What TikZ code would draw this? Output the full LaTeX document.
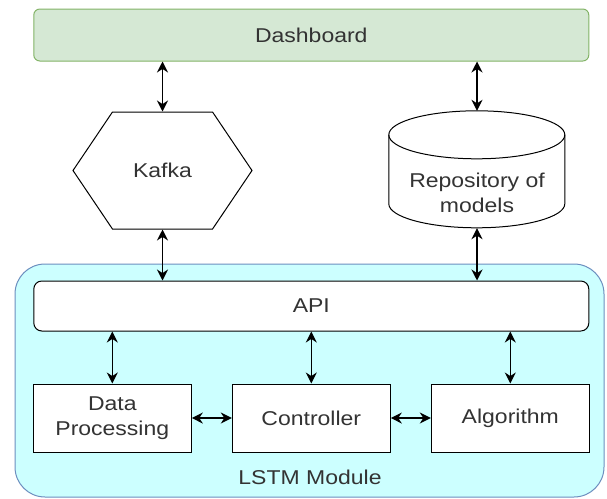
\documentclass[tikz,border=0pt]{standalone}
\usepackage{fontspec}
\setmainfont{Liberation Sans}[FakeStretch=1.15]
\usetikzlibrary{shapes.geometric, shapes.symbols, arrows.meta, positioning}
\definecolor{dashfill}{HTML}{D5E8D4}
\definecolor{dashline}{HTML}{82B366}
\definecolor{modfill}{HTML}{CCFFFF}
\definecolor{modline}{HTML}{6C8EBF}
\tikzset{
  txt/.style={font=\fontsize{20}{25}\selectfont, text=black!80},
  dashblock/.style={
    rectangle, rounded corners=6pt, draw=dashline, line width=1pt,
    fill=dashfill, txt, minimum width=555pt, minimum height=52pt
  },
  apiblock/.style={
    rectangle, rounded corners=8pt, draw=black, line width=1pt,
    fill=white, txt, minimum width=555pt, minimum height=50pt
  },
  compblock/.style={
    rectangle, draw=black, line width=1pt, fill=white, txt,
    align=center, minimum width=158pt, minimum height=68pt, inner sep=2pt
  },
  hexblock/.style={
    signal, signal to=west and east, signal pointer angle=112,
    draw=black, line width=1pt, fill=white, txt,
    minimum width=179pt, minimum height=117pt, inner sep=0pt
  },
  storeblock/.style={
    rectangle, minimum width=176pt, minimum height=117pt, inner sep=0pt
  },
  storeline/.style={draw=black, line width=1pt, fill=white},
  modulebox/.style={
    rectangle, rounded corners=30pt, draw=modline, line width=1pt,
    fill=modfill, minimum width=589pt, minimum height=233pt
  },
  biarrow/.style={
    {Stealth[length=11pt,width=11pt]}-{Stealth[length=11pt,width=11pt]},
    line width=1.4pt, draw=black
  }
}
\begin{document}
\begin{tikzpicture}[x=1pt, y=-1pt]
\useasboundingbox (0,0) rectangle (607,498);

\node[modulebox] (lstm) at (309.5,380.5) {};
\node[txt] (lstmlbl) at (310,477) {LSTM Module};

\node[dashblock] (dash) at (311.3,35) {Dashboard};
\node[hexblock] (kafka) at (162.5,170.5) {Kafka};

% model store drawn as a cylinder
\node[storeblock] (repo) at (477,169.5) {};
\draw[storeline] (repo.north west) ++(0,24) -- ++(0,69)
  arc[start angle=180, end angle=0, x radius=88, y radius=24] -- ++(0,-69)
  arc[start angle=0, end angle=-180, x radius=88, y radius=24] -- cycle;
\draw[storeline, fill=none] (repo.north west) ++(0,24)
  arc[start angle=180, end angle=0, x radius=88, y radius=24];
\node[txt, align=center] (repotxt) at ([yshift=-23pt]repo.center) {Repository of\\models};

\node[apiblock] (api) at (311.3,306) {API};
\node[compblock, below=52pt of api] (ctrl) {Controller};
\node[compblock, left=40pt of ctrl] (dp) {Data\\Processing};
\node[compblock, right=40pt of ctrl] (alg) {Algorithm};

% outside links
\draw[biarrow] (dash.south -| kafka.north) -- (kafka.north);
\draw[biarrow] (dash.south -| repo.north) -- (repo.north);
\draw[biarrow] (kafka.south) -- (kafka.south |- api.north);
\draw[biarrow] (repo.south) -- (repo.south |- api.north);

% inside the module
\foreach \comp in {dp,ctrl,alg} {
  \draw[biarrow] (api.south -| \comp.north) -- (\comp.north);
}
\draw[biarrow] (dp) -- (ctrl);
\draw[biarrow] (ctrl) -- (alg);

\end{tikzpicture}
\end{document}
